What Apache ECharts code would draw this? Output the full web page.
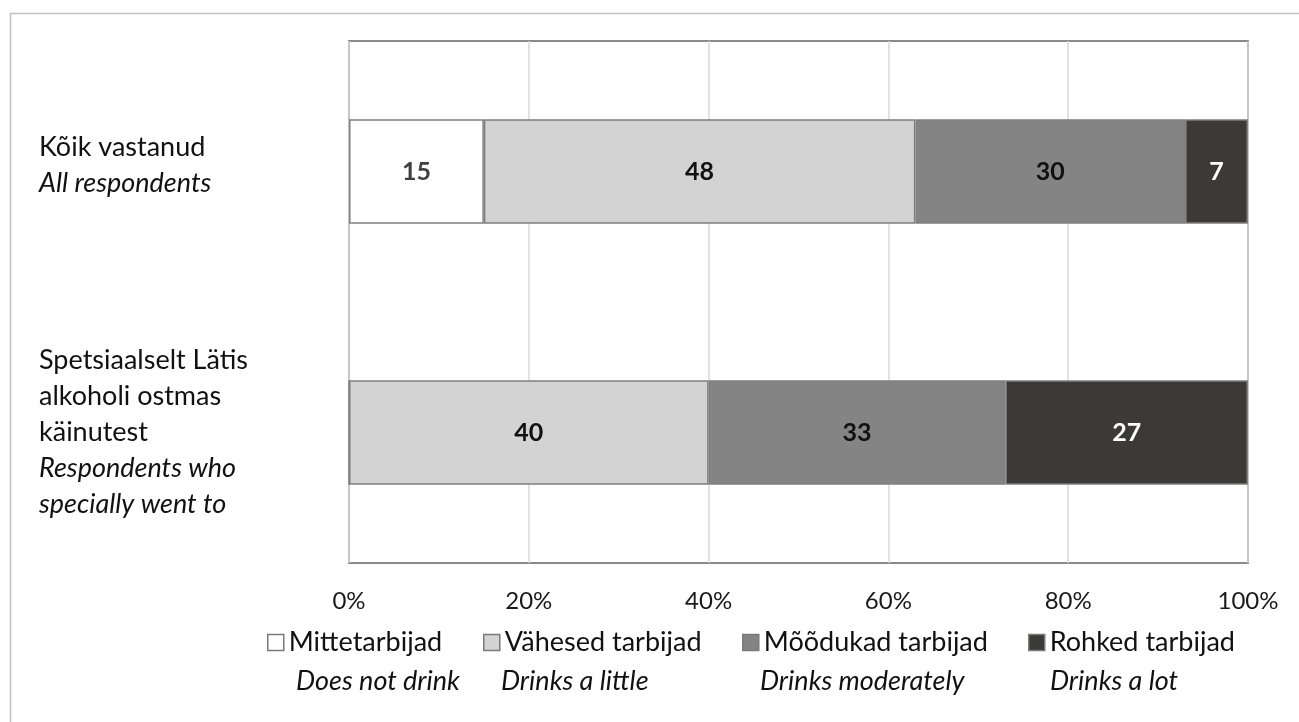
<!DOCTYPE html>
<html><head><meta charset="utf-8">
<script src="https://cdn.jsdelivr.net/npm/echarts@6/dist/echarts.min.js"></script>
<style>html,body{margin:0;padding:0;background:#fff}#c{width:1299px;height:722px}</style>
</head><body><div id="c"></div>
<script>
const categories = ['Kõik vastanud\n{i|All respondents}\n{s| }', 'Spetsiaalselt Lätis\nalkoholi ostmas\nkäinutest\n{i|Respondents who}\n{i|specially went to}'];
const seriesNames = ['Mittetarbijad', 'Vähesed tarbijad', 'Mõõdukad tarbijad', 'Rohked tarbijad'];
const seriesNamesEn = ['Does not drink', 'Drinks a little', 'Drinks moderately', 'Drinks a lot'];
const mitte = [15, 0];
const vahesed = [48, 40];
const moodukad = [30, 33];
const rohked = [7, 27];
const xTicks = [0, 20, 40, 60, 80, 100];

const values = [mitte, vahesed, moodukad, rohked];
const colors = ['#ffffff', '#d3d3d3', '#848484', '#3b3a39'];
const labelColors = ['#404040', '#111111', '#111111', '#ffffff'];
const FONT = 'Lato';
const legendLeft = [267, 483, 742, 1028];
const enLeft = [296, 501, 760, 1050];

const chart = echarts.init(document.getElementById('c'));
chart.setOption({
  animation: false,
  textStyle: { fontFamily: FONT },
  grid: { left: 349, right: 51, top: 41, bottom: 159, show: true, borderColor: '#8a8a8a', borderWidth: 2, containLabel: false, outerBoundsMode: 'none' },
  xAxis: {
    type: 'value', min: 0, max: 100, interval: 20,
    axisLine: { show: false }, axisTick: { show: false },
    splitLine: { lineStyle: { color: '#d9d9d9', width: 1.5 } },
    axisLabel: { margin: 26, fontSize: 24, color: '#1a1a1a', fontFamily: FONT,
      formatter: v => xTicks.indexOf(v) >= 0 ? v + '%' : '' }
  },
  yAxis: {
    type: 'category', inverse: true,
    data: categories,
    axisLine: { show: false }, axisTick: { show: false },
    axisLabel: { align: 'left', margin: 310, fontSize: 27, lineHeight: 36, color: '#111111', fontFamily: FONT,
      rich: { i: { fontStyle: 'italic', fontSize: 27, lineHeight: 36, color: '#111111', fontFamily: FONT },
              s: { fontSize: 8, lineHeight: 12 } } }
  },
  legend: seriesNames.map((n, i) => ({
    data: [n], left: legendLeft[i], top: 629, padding: 0,
    itemWidth: 16, itemHeight: 16, itemGap: 6,
    icon: 'rect',
    itemStyle: { borderColor: '#7a7a7a', borderWidth: 1.5 },
    textStyle: { fontSize: 27, color: '#111111', fontFamily: FONT, padding: [0, 0, 0, 0] }
  })),
  graphic: [
    { type: 'rect', left: 8, top: 11, shape: { width: 1400, height: 800 }, style: { fill: 'none', stroke: '#bfbfbf', lineWidth: 1.5 }, silent: true }
  ].concat(seriesNamesEn.map((t, i) => ({
    type: 'text', left: enLeft[i], top: 668,
    style: { text: t, fontSize: 27, fontStyle: 'italic', fill: '#111111', fontFamily: FONT }
  }))),
  series: seriesNames.map((n, i) => ({
    name: n, type: 'bar', stack: 'total', barWidth: '40%',
    data: values[i],
    itemStyle: { color: colors[i], borderColor: '#7f7f7f', borderWidth: 1.5 },
    label: { show: true, position: 'inside', fontSize: 25, fontWeight: 'bold', color: labelColors[i], fontFamily: FONT,
      formatter: p => p.value > 0 ? String(p.value) : '' }
  }))
});
</script></body></html>
